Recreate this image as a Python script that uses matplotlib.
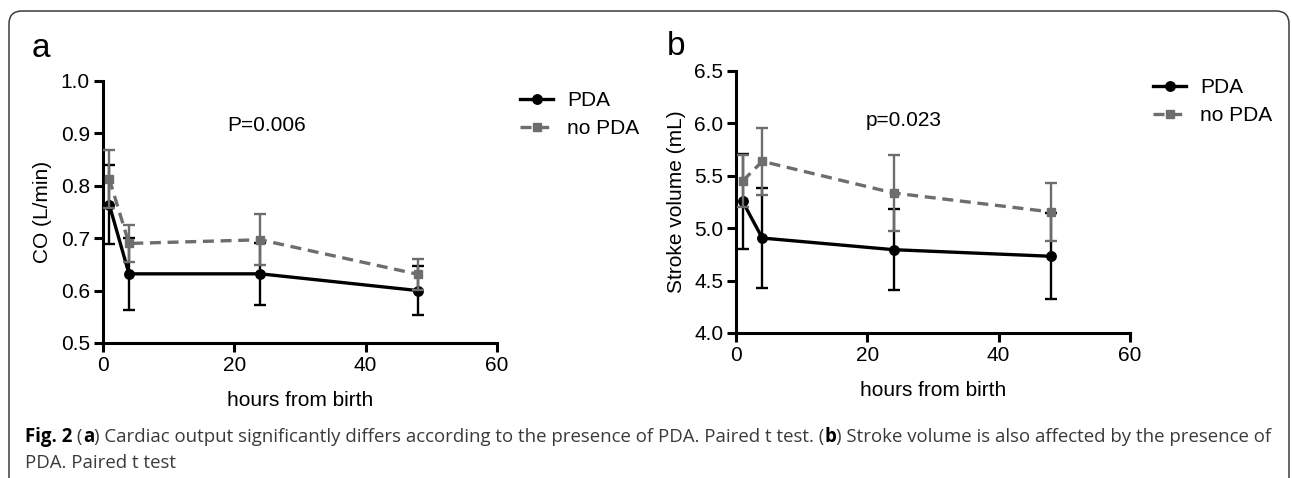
import matplotlib
matplotlib.use("Agg")
import matplotlib.pyplot as plt
from matplotlib.patches import FancyBboxPatch
from matplotlib.transforms import IdentityTransform

plt.rcParams['font.family'] = ['Liberation Sans', 'DejaVu Sans']

hours = [1, 4, 24, 48]

# panel a: cardiac output (L/min)
co_pda = [0.764, 0.632, 0.632, 0.600]
co_pda_err = [0.075, 0.069, 0.059, 0.047]
co_nopda = [0.813, 0.690, 0.697, 0.631]
co_nopda_err = [0.056, 0.036, 0.049, 0.029]

# panel b: stroke volume (mL)
sv_pda = [5.256, 4.906, 4.795, 4.732]
sv_pda_err = [0.45, 0.48, 0.385, 0.41]
sv_nopda = [5.45, 5.638, 5.336, 5.155]
sv_nopda_err = [0.25, 0.32, 0.365, 0.28]

W, H = 1292, 478
GREY = '#6d6d6d'
FS = 15

fig = plt.figure(figsize=(W / 100, H / 100), dpi=100)

# frame around the figure
frame = FancyBboxPatch((9, -30), 1280, H - 11 + 30,
                       boxstyle="round,pad=0,rounding_size=13",
                       transform=IdentityTransform(), fill=False,
                       edgecolor='#3c3c3c', linewidth=1.1)
fig.add_artist(frame)


def panel(rect, pda, pda_err, nopda, nopda_err, ylim, yticks, ylabel,
          ptext, pxy, letter, letter_xy, leg_xy):
    ax = fig.add_axes(rect)
    ax.errorbar(hours, pda, yerr=pda_err, fmt='none', ecolor='black',
                elinewidth=1.7, capsize=4.5, capthick=1.7, zorder=2)
    ax.plot(hours, pda, color='black', lw=2.4, marker='o', ms=6.8,
            label='PDA', zorder=3)
    ax.errorbar(hours, nopda, yerr=nopda_err, fmt='none', ecolor=GREY,
                elinewidth=1.7, capsize=4.5, capthick=1.7, zorder=4)
    ax.plot(hours, nopda, color=GREY, lw=2.4, ls=(0, (3.3, 2)), marker='s',
            ms=6.2, label='no PDA', zorder=5)

    ax.set_xlim(0, 60)
    ax.set_ylim(*ylim)
    ax.set_xticks([0, 20, 40, 60])
    ax.set_yticks(yticks)
    ax.set_yticklabels([f"{v:.1f}" for v in yticks])
    for s in ['top', 'right']:
        ax.spines[s].set_visible(False)
    for s in ['left', 'bottom']:
        ax.spines[s].set_linewidth(2.2)
    ax.tick_params(axis='both', length=6.5, width=2.2, labelsize=FS)
    ax.tick_params(axis='y', pad=2.7)
    ax.tick_params(axis='x', pad=3)
    ax.patch.set_visible(False)

    ax.text(-0.152, 0.5, ylabel, transform=ax.transAxes, rotation=90,
            ha='center', va='center', fontsize=FS)
    ax.text(0.5, -0.2176, 'hours from birth', transform=ax.transAxes,
            ha='center', va='center', fontsize=FS)
    ax.text(pxy[0], pxy[1], ptext, ha='center', va='center', fontsize=FS)
    fig.text(letter_xy[0] / W, 1 - letter_xy[1] / H, letter, fontsize=24,
             ha='left', va='baseline')
    ax.legend(loc='center left', bbox_to_anchor=(leg_xy[0] / W, 1 - leg_xy[1] / H),
              bbox_transform=fig.transFigure, frameon=False, fontsize=FS,
              borderpad=0, handlelength=1.6, handletextpad=0.65,
              labelspacing=0.45, borderaxespad=0)
    return ax


panel([102.7 / W, 1 - 343 / H, 394.3 / W, 262 / H],
      co_pda, co_pda_err, co_nopda, co_nopda_err,
      (0.5, 1.0), [0.5, 0.6, 0.7, 0.8, 0.9, 1.0], 'CO (L/min)',
      'P=0.006', (25, 0.916), 'a', (32, 57), (520, 114.5))

panel([736 / W, 1 - 333 / H, 394 / W, 262 / H],
      sv_pda, sv_pda_err, sv_nopda, sv_nopda_err,
      (4.0, 6.5), [4.0, 4.5, 5.0, 5.5, 6.0, 6.5], 'Stroke volume (mL)',
      'p=0.023', (25.6, 6.03), 'b', (667, 55), (1153, 101.5))

# caption with bold runs
line1 = [("Fig. 2", 'bold'), (" (", 'normal'), ("a", 'bold'),
         (") Cardiac output significantly differs according to the presence of PDA. Paired t test. (", 'normal'),
         ("b", 'bold'),
         (") Stroke volume is also affected by the presence of", 'normal')]
line2 = [("PDA. Paired t test", 'normal')]

renderer = fig.canvas.get_renderer()


def run_width(s, weight, size):
    t1 = fig.text(0, 0, "|" + s + "|", fontsize=size, fontweight=weight,
                  family=['Open Sans', 'DejaVu Sans'])
    t2 = fig.text(0, 0, "||", fontsize=size, fontweight=weight,
                  family=['Open Sans', 'DejaVu Sans'])
    w = t1.get_window_extent(renderer).width - t2.get_window_extent(renderer).width
    t1.remove()
    t2.remove()
    return w


base = 12
total = sum(run_width(s, w, base) for s, w in line1)
cap_fs = base * 1238 / total


def draw_line(runs, y):
    x = 25
    for s, w in runs:
        fig.text(x / W, 1 - y / H, s, fontsize=cap_fs, fontweight=w,
                 family=['Open Sans', 'DejaVu Sans'], ha='left', va='center',
                 color='black' if w == 'bold' else '#3a3a3a')
        x += run_width(s, w, cap_fs)


draw_line(line1, 437)
draw_line(line2, 463)

fig.savefig('out.png', dpi=100)
